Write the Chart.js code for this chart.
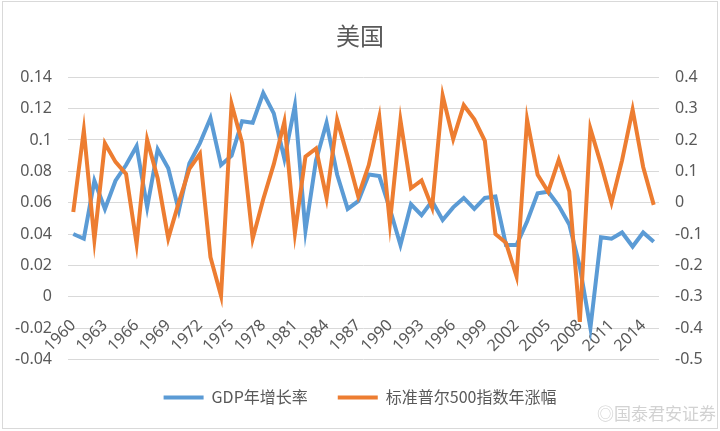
<!DOCTYPE html>
<html>
<head>
<meta charset="utf-8">
<title>美国</title>
<script src="https://cdn.jsdelivr.net/npm/chart.js@4.4.1/dist/chart.umd.min.js"></script>
<style>
  html, body { margin: 0; padding: 0; background: #fff; }
  #wrap { position: relative; width: 720px; height: 431px; }
  #frame { position: absolute; left: 2px; top: 1px; width: 714px; height: 426px;
           border: 1px solid #d9d9d9; pointer-events: none; }
</style>
</head>
<body>
<div id="wrap">
  <canvas id="chart" width="720" height="431"></canvas>
  <div id="frame"></div>
</div>
<script>
// 横轴年份
const years = [
  1960, 1961, 1962, 1963, 1964, 1965, 1966, 1967, 1968, 1969,
  1970, 1971, 1972, 1973, 1974, 1975, 1976, 1977, 1978, 1979,
  1980, 1981, 1982, 1983, 1984, 1985, 1986, 1987, 1988, 1989,
  1990, 1991, 1992, 1993, 1994, 1995, 1996, 1997, 1998, 1999,
  2000, 2001, 2002, 2003, 2004, 2005, 2006, 2007, 2008, 2009,
  2010, 2011, 2012, 2013, 2014, 2015
];

// GDP年增长率（左轴）
const gdpGrowth = [
  0.040, 0.037, 0.074, 0.056, 0.074, 0.084, 0.096, 0.057, 0.094, 0.082,
  0.055, 0.085, 0.098, 0.114, 0.084, 0.090, 0.112, 0.111, 0.130, 0.117,
  0.088, 0.122, 0.042, 0.087, 0.111, 0.078, 0.056, 0.061, 0.078, 0.077,
  0.056, 0.033, 0.059, 0.052, 0.061, 0.049, 0.057, 0.063, 0.056, 0.063,
  0.064, 0.033, 0.033, 0.048, 0.066, 0.067, 0.058, 0.046, 0.019, -0.020,
  0.038, 0.037, 0.041, 0.032, 0.041, 0.035
];

// 标准普尔500指数年涨幅（右轴）
const spxChange = [
  -0.030, 0.231, -0.118, 0.189, 0.130, 0.092, -0.131, 0.201, 0.077, -0.114,
  0.001, 0.108, 0.156, -0.174, -0.297, 0.315, 0.191, -0.115, 0.011, 0.123,
  0.258, -0.097, 0.147, 0.173, 0.015, 0.265, 0.146, 0.020, 0.120, 0.273,
  -0.066, 0.263, 0.046, 0.071, -0.015, 0.342, 0.203, 0.311, 0.266, 0.197,
  -0.100, -0.128, -0.235, 0.265, 0.089, 0.035, 0.137, 0.036, -0.380, 0.236,
  0.123, 0.000, 0.135, 0.297, 0.114, -0.007
];

// 刻度
const leftTicks = [0.14, 0.12, 0.1, 0.08, 0.06, 0.04, 0.02, 0, -0.02, -0.04];
const rightTicks = [0.4, 0.3, 0.2, 0.1, 0, -0.1, -0.2, -0.3, -0.4, -0.5];
const xLabelStep = 3;

const textColor = '#595959';
const latin = "'Noto Sans', 'Noto Sans CJK SC', sans-serif";
const cjk = "'Noto Sans CJK SC', 'Noto Sans', sans-serif";

// 右下角水印
const watermark = {
  id: 'watermark',
  afterDraw(chart) {
    const ctx = chart.ctx;
    ctx.save();
    ctx.font = '17px ' + cjk;
    ctx.fillStyle = '#d2d2d2';
    ctx.textAlign = 'right';
    ctx.textBaseline = 'alphabetic';
    ctx.fillText('◎国泰君安证券', chart.width - 4, 420);
    ctx.restore();
  }
};

new Chart(document.getElementById('chart'), {
  type: 'line',
  data: {
    labels: years,
    datasets: [
      {
        label: 'GDP年增长率',
        data: gdpGrowth,
        yAxisID: 'y',
        borderColor: '#5B9BD5',
        backgroundColor: '#5B9BD5',
        borderWidth: 4,
        pointRadius: 0,
        tension: 0,
        order: 1
      },
      {
        label: '标准普尔500指数年涨幅',
        data: spxChange,
        yAxisID: 'y1',
        borderColor: '#ED7D31',
        backgroundColor: '#ED7D31',
        borderWidth: 4,
        pointRadius: 0,
        tension: 0,
        order: 0
      }
    ]
  },
  options: {
    responsive: false,
    animation: false,
    layout: { padding: { top: 0, left: 0, right: 0, bottom: 15.6 } },
    plugins: {
      title: {
        display: true,
        text: '美国',
        color: textColor,
        font: { size: 24, family: cjk, weight: 'normal' },
        padding: { top: 21, bottom: 27.5 }
      },
      legend: {
        position: 'bottom',
        labels: {
          boxWidth: 40,
          boxHeight: 4,
          padding: 30,
          color: textColor,
          font: { size: 16, family: cjk },
          sort: (a, b) => a.datasetIndex - b.datasetIndex,
          generateLabels: chart =>
            Chart.defaults.plugins.legend.labels.generateLabels(chart)
              .map(item => Object.assign(item, { lineWidth: 0 }))
        }
      },
      tooltip: { enabled: false }
    },
    scales: {
      x: {
        type: 'category',
        offset: true,
        position: { y: -0.02 },
        grid: { display: false },
        border: { display: false },
        ticks: {
          autoSkip: false,
          minRotation: 45,
          maxRotation: 45,
          padding: -20,
          color: textColor,
          font: { size: 16, family: latin },
          callback: (value, index) =>
            (years[index] - years[0]) % xLabelStep === 0 ? String(years[index]) : ''
        }
      },
      y: {
        position: 'left',
        min: -0.04,
        max: 0.14,
        afterBuildTicks: s => { s.ticks = leftTicks.map(v => ({ value: v })); },
        afterFit: s => { s.width = 68; },
        grid: { color: '#d9d9d9', lineWidth: 1, drawTicks: false },
        border: { display: false },
        ticks: {
          padding: 16,
          color: textColor,
          font: { size: 16, family: latin },
          callback: v => String(Math.round(v * 100) / 100)
        }
      },
      y1: {
        position: 'right',
        min: -0.5,
        max: 0.4,
        afterBuildTicks: s => { s.ticks = rightTicks.map(v => ({ value: v })); },
        afterFit: s => { s.width = 61; },
        grid: { display: false, drawTicks: false },
        border: { display: false },
        ticks: {
          padding: 16,
          color: textColor,
          font: { size: 16, family: latin },
          callback: v => String(Math.round(v * 10) / 10)
        }
      }
    }
  },
  plugins: [watermark]
});
</script>
</body>
</html>
